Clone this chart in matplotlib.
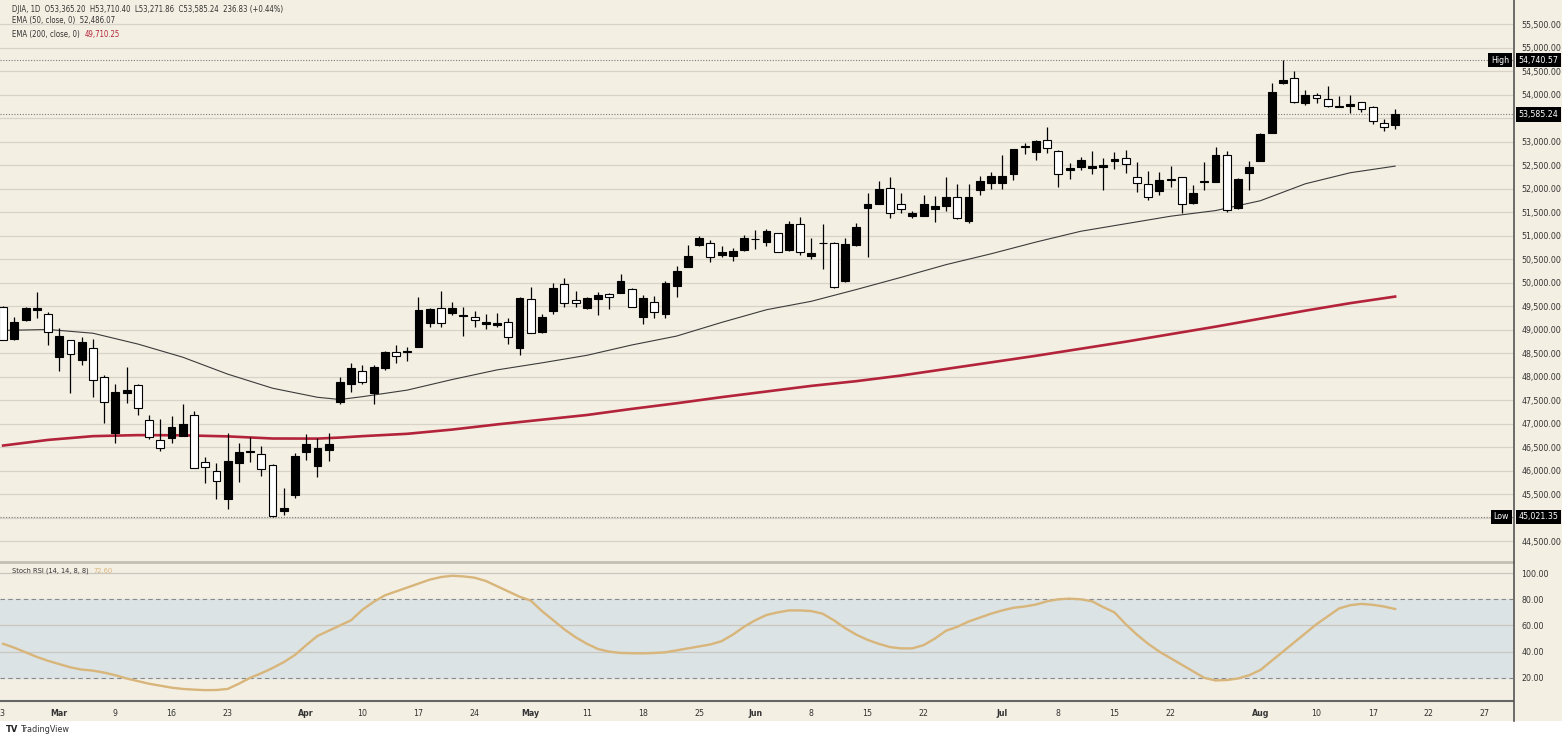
import numpy as np
import matplotlib
matplotlib.use("Agg")
import matplotlib.pyplot as plt
from matplotlib.patches import Rectangle
from matplotlib.transforms import blended_transform_factory

### DATA (daily bars from Feb 23 to Aug 19)
opens = [49495, 48808, 49212, 49425, 49333, 48418, 48787, 48361, 48610, 47993,
         46815, 47652, 47829, 47084, 46658, 46694, 46750, 47190, 46183, 46005,
         45403, 46162, 46396, 46354, 46126, 45154, 45488, 46410, 46105, 46446,
         47460, 47850, 48133, 47652, 48183, 48524, 48530, 48643, 49155, 49474,
         49354, 49290, 49268, 49127, 49105, 49176, 48623, 49652, 48963, 49403,
         49971, 49638, 49460, 49651, 49758, 49794, 49864, 49283, 49588, 49333,
         49935, 50347, 50808, 50857, 50595, 50574, 50701, 50925, 50879, 51057,
         50701, 51255, 50574, 50840, 50844, 50042, 50808, 51591, 51674, 52014,
         51674, 51425, 51433, 51574, 51638, 51836, 51318, 51978, 52134, 52134,
         52319, 52895, 52794, 53042, 52815, 52404, 52475, 52453, 52475, 52588,
         52652, 52262, 52099, 51957, 52200, 52248, 51695, 52150, 52155, 52723,
         51589, 52347, 52602, 53198, 54249, 54368, 53836, 54000, 53908, 53755,
         53766, 53844, 53751, 53397, 53365.20]
highs = [49500, 49282, 49480, 49800, 49390, 49035, 48790, 48845, 48801, 48041,
         47850, 48205, 47850, 47190, 47100, 47169, 47424, 47282, 46303, 46175,
         46800, 46588, 46730, 46537, 46140, 45630, 46375, 46786, 46694, 46800,
         48005, 48303, 48254, 48254, 48560, 48680, 48643, 49695, 49460, 49835,
         49602, 49495, 49410, 49340, 49367, 49248, 49709, 49921, 49333, 49993,
         50100, 49836, 49695, 49815, 49780, 50190, 49886, 49743, 49730, 50050,
         50361, 50808, 50999, 50914, 50787, 50737, 51021, 51127, 51142, 51070,
         51326, 51397, 50950, 51255, 50865, 50950, 51283, 51922, 52177, 52248,
         51908, 51531, 51872, 51850, 52248, 52106, 52106, 52276, 52368, 52723,
         52850, 52985, 53035, 53325, 52830, 52560, 52688, 52815, 52652, 52794,
         52830, 52581, 52390, 52368, 52489, 52255, 52085, 52581, 52887, 52815,
         52227, 52602, 53198, 54249, 54740.57, 54517, 54106, 54036, 54198, 53978,
         54000, 53857, 53760, 53483, 53710.40]
lows = [48780, 48787, 49190, 49248, 48680, 48133, 47652, 48254, 47580, 47014,
        46600, 47452, 47190, 46677, 46430, 46588, 46740, 46055, 45750, 45396,
        45183, 45770, 46197, 45892, 45021.35, 45062, 45417, 46233, 45865, 46218,
        47424, 47687, 47850, 47424, 48148, 48290, 48339, 48640, 49056, 49056,
        49318, 48872, 49070, 49013, 49070, 48701, 48467, 48930, 48943, 49340,
        49482, 49482, 49455, 49318, 49446, 49780, 49482, 49127, 49248, 49248,
        49709, 50340, 50793, 50454, 50546, 50467, 50687, 50716, 50793, 50660,
        50687, 50595, 50503, 50297, 49886, 50028, 50793, 50546, 51670, 51376,
        51497, 51389, 51425, 51290, 51539, 51354, 51283, 51872, 51993, 51993,
        52191, 52744, 52617, 52759, 52036, 52206, 52404, 52319, 51978, 52425,
        52347, 51943, 51766, 51872, 52036, 51497, 51681, 51978, 52150, 51518,
        51568, 51978, 52600, 53184, 54234, 53823, 53787, 53823, 53751, 53745,
        53610, 53645, 53383, 53240, 53271.86]
closes = [48790, 49176, 49474, 49460, 48963, 48877, 48482, 48738, 47935, 47474,
          47687, 47722, 47333, 46730, 46480, 46928, 46992, 46069, 46076, 45792,
          46218, 46396, 46424, 46034, 45047, 45211, 46325, 46566, 46495, 46573,
          47899, 48183, 47899, 48205, 48537, 48446, 48545, 49425, 49439, 49141,
          49474, 49300, 49212, 49162, 49148, 48857, 49674, 48943, 49283, 49886,
          49581, 49567, 49673, 49743, 49695, 50049, 49495, 49673, 49375, 49993,
          50261, 50574, 50950, 50546, 50653, 50680, 50964, 50940, 51113, 50666,
          51255, 50653, 50631, 50850, 49907, 50829, 51184, 51676, 51993, 51482,
          51568, 51497, 51681, 51645, 51836, 51376, 51836, 52170, 52276, 52276,
          52844, 52905, 53027, 52866, 52319, 52453, 52617, 52482, 52503, 52631,
          52525, 52134, 51823, 52191, 52212, 51674, 51908, 52160, 52723, 51553,
          52206, 52475, 53163, 54070, 54319, 53857, 54000, 53930, 53766, 53750,
          53808, 53702, 53447, 53325, 53585.24]

# EMA lines, read at every 4th bar
ema_idx = [0, 4, 8, 12, 16, 20, 24, 28, 30, 32, 36, 40, 44, 48, 52, 56, 60,
           64, 68, 72, 76, 80, 84, 88, 92, 96, 100, 104, 108, 112, 116, 120, 124]
ema50 = [48990, 49010, 48930, 48700, 48420, 48060, 47760, 47567, 47520, 47580,
         47720, 47945, 48150, 48300, 48460, 48680, 48870, 49160, 49430, 49610,
         49860, 50120, 50390, 50620, 50870, 51100, 51260, 51420, 51540, 51750,
         52110, 52345, 52486.07]
ema200 = [46540, 46660, 46740, 46762, 46758, 46735, 46690, 46688, 46710, 46740,
          46790, 46880, 46990, 47090, 47190, 47320, 47440, 47570, 47690, 47810,
          47910, 48030, 48170, 48310, 48450, 48600, 48750, 48910, 49070, 49240,
          49410, 49570, 49710.25]

# Stoch RSI per bar
stoch = [46, 43, 39.5, 36, 33, 30.5, 28, 26.3, 25.5, 24,
         22, 19.5, 17.5, 15.5, 14, 12.5, 11.5, 11, 10.6, 10.7,
         11.5, 15.5, 20, 23.5, 27.5, 32, 37.5, 45, 52, 56,
         60, 64, 72, 78, 83, 86, 89, 92, 95, 97,
         98, 97.5, 96.5, 94, 90, 86, 82, 79, 71, 64,
         57, 51, 46, 42, 40, 39, 38.8, 38.7, 39, 39.5,
         41, 42.5, 44, 45.5, 48, 53, 59, 64, 68, 70,
         71.5, 71.5, 71, 69, 64, 58, 53, 49, 46, 43.5,
         42.5, 42.5, 45, 50, 56, 59, 63, 66, 69, 71.5,
         73.5, 74.5, 76, 78.5, 80, 80.5, 80, 78.5, 74, 70,
         61, 53, 46, 40, 35, 30, 25, 20, 18, 18.3,
         19.5, 22, 26, 33, 40, 47, 54, 61, 67, 73,
         75.5, 76.5, 75.8, 74.5, 72.6]

date_idx = [-0.28, 5, 10, 15, 20, 27, 32, 37, 42, 47, 52, 57, 62, 67, 72, 77, 82,
            89, 94, 99, 104, 112, 117, 122, 127, 132]
date_labels = ['23', 'Mar', '9', '16', '23', 'Apr', '10', '17', '24', 'May', '11',
               '18', '25', 'Jun', '8', '15', '22', 'Jul', '8', '15', '22',
               'Aug', '10', '17', '22', '27']

price_ticks = np.arange(44500, 55501, 500)
hidden_ticks = [45000, 53500]   # covered by the price boxes
stoch_ticks = [20, 40, 60, 80, 100]

hi_val = 54740.57
lo_val = 45021.35
last_val = 53585.24

### PLOT
W, H = 1568, 741
bg = '#f4efe3'
grid_c = '#d8d3c8'
txt_c = '#333333'
fs = 6.3
font = dict(family='DejaVu Sans', stretch='condensed')

fig = plt.figure(figsize=(W / 100, H / 100), dpi=100, facecolor='white')
fig.patches.append(Rectangle((0, 20 / H), 1562 / W, 721 / H, transform=fig.transFigure,
                             facecolor=bg, edgecolor='none', zorder=-10))

ax = fig.add_axes([0, 1 - 562 / H, 1513 / W, 562 / H])
ax2 = fig.add_axes([0, 1 - 701 / H, 1513 / W, 139 / H], sharex=ax)

for a in (ax, ax2):
    a.set_facecolor(bg)
    for s in ['top', 'left', 'bottom', 'right']:
        a.spines[s].set_visible(False)
    a.yaxis.tick_right()
    a.tick_params(axis='y', length=0, pad=6, labelsize=fs, labelcolor=txt_c)

# candles
x = np.arange(len(opens))
o = np.array(opens)
c = np.array(closes)
up = c >= o
ax.vlines(x, lows, highs, color='black', linewidth=0.9, zorder=3)
body_lo = np.minimum(o, c)
body_h = np.maximum(np.abs(c - o), 18)
ax.bar(x[up], body_h[up], bottom=body_lo[up], width=0.7,
       color='black', edgecolor='black', linewidth=0.8, zorder=4)
ax.bar(x[~up], body_h[~up], bottom=body_lo[~up], width=0.7,
       color='white', edgecolor='black', linewidth=0.8, zorder=4)

ax.plot(ema_idx, ema50, color='#3b3b3b', linewidth=0.8, zorder=2)
ax.plot(ema_idx, ema200, color='#b3243a', linewidth=1.9, zorder=2)

ax.set_yticks(price_ticks)
ax.set_yticklabels(['' if v in hidden_ticks else f'{v:,.2f}' for v in price_ticks],
                   fontdict=font)
ax.grid(axis='y', color=grid_c, linewidth=0.9)
ax.set_axisbelow(True)
ax.set_ylim(44062, 56021)
ax.set_xlim(-0.28, 134.5)
ax.tick_params(axis='x', bottom=False, labelbottom=False)

for v in (hi_val, lo_val, last_val):
    ax.axhline(v, color='#7a7a7a', linewidth=0.8, linestyle=(0, (1, 1.5)), zorder=1)

tr = blended_transform_factory(ax.transAxes, ax.transData)
box = dict(boxstyle='square,pad=0.3', facecolor='black', edgecolor='none')
for val, tag in ((hi_val, 'High'), (lo_val, 'Low'), (last_val, None)):
    ax.text(1.0035, val, f'{val:,.2f}', transform=tr, ha='left', va='center',
            color='white', fontsize=fs, bbox=box, clip_on=False, zorder=10, **font)
    if tag:
        ax.text(0.9975, val, tag, transform=tr, ha='right', va='center',
                color='white', fontsize=fs, bbox=box, clip_on=False, zorder=10, **font)

# header legend
hfs = 5.6
ax.text(12 / 1513, 1 - 9 / 562,
        f'DJIA, 1D  O{opens[-1]:,.2f}  H{highs[-1]:,.2f}  L{lows[-1]:,.2f}  '
        f'C{closes[-1]:,.2f}  236.83 (+0.44%)',
        transform=ax.transAxes, fontsize=hfs, color=txt_c, va='center', **font)
ax.text(12 / 1513, 1 - 21 / 562, f'EMA (50, close, 0)  {ema50[-1]:,.2f}',
        transform=ax.transAxes, fontsize=hfs, color=txt_c, va='center', **font)
t = ax.text(12 / 1513, 1 - 34 / 562, 'EMA (200, close, 0)  ',
            transform=ax.transAxes, fontsize=hfs, color=txt_c, va='center', **font)
ax.annotate(f'{ema200[-1]:,.2f}', xycoords=t, xy=(1, 0.5), va='center',
            fontsize=hfs, color='#b3243a', **font)

# stoch rsi panel
ax2.axhspan(20, 80, color='#dce3e4', zorder=0)
ax2.axhline(80, color='#8a8a8a', linewidth=0.8, linestyle=(0, (4, 3)), zorder=1)
ax2.axhline(20, color='#8a8a8a', linewidth=0.8, linestyle=(0, (4, 3)), zorder=1)
for v in (40, 60, 100):
    ax2.axhline(v, color='#c9c7bf', linewidth=0.9, zorder=1)
ax2.plot(x, stoch, color='#d8b57a', linewidth=1.7, zorder=3)
ax2.set_ylim(2.3, 108.5)
ax2.set_yticks(stoch_ticks)
ax2.set_yticklabels([f'{v:.2f}' for v in stoch_ticks], fontdict=font)
ax2.spines['top'].set_visible(True)
ax2.spines['top'].set_color('#c4bfb4')
ax2.spines['top'].set_linewidth(2)
ax2.spines['bottom'].set_visible(True)
ax2.spines['bottom'].set_color('#666666')
ax2.spines['bottom'].set_linewidth(1.5)

ax2.set_xticks(date_idx)
ax2.set_xticklabels(date_labels, fontdict=font)
ax2.tick_params(axis='x', length=0, pad=6, labelsize=fs, labelcolor=txt_c)
for lab in ax2.get_xticklabels():
    if not lab.get_text().isdigit():
        lab.set_fontweight('bold')

t2 = ax2.text(12 / 1513, 1 - 9 / 139, 'Stoch RSI (14, 14, 8, 8)  ',
              transform=ax2.transAxes, fontsize=hfs - 0.3, color=txt_c, va='center', **font)
ax2.annotate(f'{stoch[-1]:.2f}', xycoords=t2, xy=(1, 0.5), va='center',
             fontsize=hfs - 0.3, color='#d8b57a', **font)

# right price-scale border, from top down through the date row
fig.add_artist(plt.Line2D([1513.5 / W, 1513.5 / W], [20 / H, 1],
                          transform=fig.transFigure, color='#555555', linewidth=1.2))

fig.text(6 / W, 11 / H, 'TV', fontsize=6, fontweight='bold', color='#222222', va='center')
fig.text(21 / W, 11 / H, 'TradingView', fontsize=6.5, color='#333333', va='center', **font)

fig.savefig('out.png', dpi=100, facecolor=fig.get_facecolor())
